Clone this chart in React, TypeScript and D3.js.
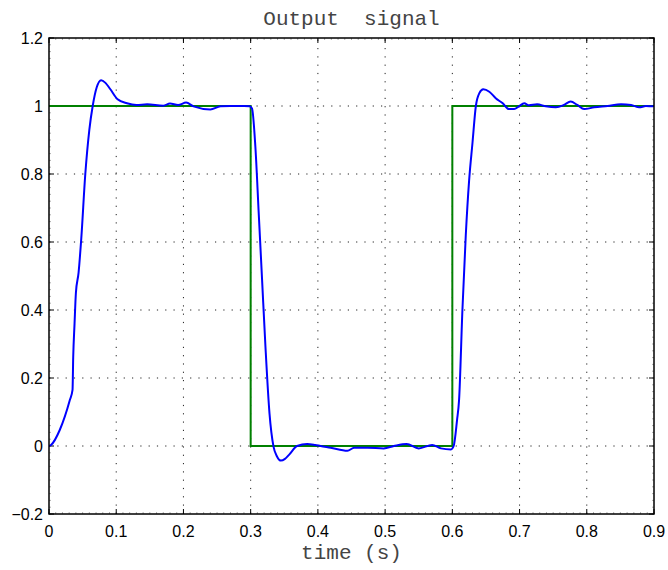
import React from "react";
import * as d3 from "d3";

const xTicks = [0, 0.1, 0.2, 0.3, 0.4, 0.5, 0.6, 0.7, 0.8, 0.9];
const yTicks = [-0.2, 0, 0.2, 0.4, 0.6, 0.8, 1, 1.2];

const refTime = [0, 0.3, 0.3, 0.6, 0.6, 0.9];
const refValue = [1, 1, 0, 0, 1, 1];

const outTime = [
  0, 0.003, 0.016, 0.031, 0.035, 0.036, 0.038, 0.04, 0.044, 0.048, 0.054, 0.06, 0.065,
  0.071, 0.0775, 0.084, 0.091, 0.102, 0.116, 0.13, 0.146, 0.17, 0.18, 0.192, 0.204, 0.215,
  0.24, 0.255, 0.27, 0.29, 0.2985, 0.302, 0.307, 0.312, 0.317, 0.322, 0.328, 0.334, 0.339,
  0.345, 0.351, 0.357, 0.369, 0.384, 0.396, 0.404, 0.419, 0.444, 0.454, 0.474, 0.498, 0.513,
  0.532, 0.55, 0.57, 0.583, 0.598, 0.602, 0.607, 0.61, 0.615, 0.62, 0.625, 0.63, 0.635,
  0.64, 0.646, 0.655, 0.665, 0.675, 0.684, 0.692, 0.699, 0.707, 0.714, 0.726, 0.739, 0.754,
  0.766, 0.776, 0.786, 0.796, 0.811, 0.831, 0.851, 0.866, 0.878, 0.888, 0.898, 0.9,
];
const outValue = [
  0, 0.003, 0.047, 0.135, 0.165, 0.26, 0.36, 0.45, 0.51, 0.61, 0.8, 0.93, 1.0,
  1.055, 1.076, 1.068, 1.05, 1.02, 1.008, 1.003, 1.005, 1.001, 1.007, 1.003, 1.01, 0.999,
  0.99, 0.999, 1.0, 1.0, 0.999, 0.993, 0.88, 0.684, 0.488, 0.292, 0.096, -0.002, -0.03,
  -0.043, -0.038, -0.026, 0.0, 0.006, 0.003, 0.0, -0.005, -0.014, -0.005, -0.005, -0.007, 0.0,
  0.006, -0.007, 0.003, -0.007, -0.01, 0.0, 0.076, 0.135, 0.4, 0.62, 0.782, 0.892, 1.0,
  1.037, 1.049, 1.042, 1.022, 1.008, 0.991, 0.991, 0.999, 1.008, 1.002, 1.005, 0.999, 0.996,
  1.003, 1.013, 1.003, 0.991, 0.996, 1.0, 1.005, 1.003, 0.996, 1.0, 0.999, 1.0,
];

const W = 668;
const H = 570;
const M = { left: 49, right: 14, top: 38, bottom: 56 };

export default function App() {
  const x = d3.scaleLinear().domain([0, 0.9]).range([M.left, W - M.right]);
  const y = d3.scaleLinear().domain([-0.2, 1.2]).range([H - M.bottom, M.top]);
  const [x0, x1] = x.range();
  const [y0, y1] = y.range();

  const refLine = d3
    .line<number>()
    .x((_, i) => x(refTime[i]))
    .y((_, i) => y(refValue[i]))(refTime as any) as string;

  const outLine = d3
    .line<number>()
    .x((_, i) => x(outTime[i]))
    .y((_, i) => y(outValue[i]))
    .curve(d3.curveMonotoneX)(outTime as any) as string;

  const minorX = d3.range(0, 0.9001, 0.01);
  const minorY = d3.range(-0.2, 1.2001, 0.02);
  const fmt = (v: number) => (Math.abs(v) < 1e-9 ? "0" : d3.format("")(+v.toFixed(1)).replace("-", "\u2212"));

  return (
    <svg width={W} height={H} style={{ display: "block", position: "absolute", left: 0, top: 0 }}>
      <rect x={0} y={0} width={W} height={H} fill="#fff" />
      <defs>
        <clipPath id="plot">
          <rect x={x0} y={y1} width={x1 - x0} height={y0 - y1} />
        </clipPath>
      </defs>
      {/* grid */}
      <g stroke="#222" strokeWidth={1} strokeDasharray="1.2,7.1">
        {xTicks.slice(1, -1).map((t) => (
          <line key={"gx" + t} x1={x(t)} x2={x(t)} y1={y0} y2={y1} />
        ))}
        {yTicks.slice(1, -1).map((t) => (
          <line key={"gy" + t} x1={x0} x2={x1} y1={y(t)} y2={y(t)} />
        ))}
      </g>
      {/* minor ticks */}
      <g stroke="#777" strokeWidth={0.6}>
        {minorX.map((t, i) => (
          <g key={"mx" + i}>
            <line x1={x(t)} x2={x(t)} y1={y0} y2={y0 - 2} />
            <line x1={x(t)} x2={x(t)} y1={y1} y2={y1 + 2} />
          </g>
        ))}
        {minorY.map((t, i) => (
          <g key={"my" + i}>
            <line x1={x0} x2={x0 + 2} y1={y(t)} y2={y(t)} />
            <line x1={x1} x2={x1 - 2} y1={y(t)} y2={y(t)} />
          </g>
        ))}
      </g>
      {/* major ticks */}
      <g stroke="#000" strokeWidth={1}>
        {xTicks.map((t) => (
          <g key={"tx" + t}>
            <line x1={x(t)} x2={x(t)} y1={y0} y2={y0 - 5} />
            <line x1={x(t)} x2={x(t)} y1={y1} y2={y1 + 5} />
          </g>
        ))}
        {yTicks.map((t) => (
          <g key={"ty" + t}>
            <line x1={x0} x2={x0 + 5} y1={y(t)} y2={y(t)} />
            <line x1={x1} x2={x1 - 5} y1={y(t)} y2={y(t)} />
          </g>
        ))}
      </g>
      <g clipPath="url(#plot)" fill="none">
        <path d={refLine} stroke="#008000" strokeWidth={2} />
        <path d={outLine} stroke="#0000ff" strokeWidth={2} strokeLinejoin="round" />
      </g>
      <rect x={x0} y={y1} width={x1 - x0} height={y0 - y1} fill="none" stroke="#000" strokeWidth={1.5} />
      {/* tick labels */}
      <g fontFamily="'Liberation Sans', Arial, sans-serif" fontSize={16} fill="#000">
        {xTicks.map((t) => (
          <text key={"lx" + t} x={x(t)} y={y0 + 23} textAnchor="middle">
            {fmt(t)}
          </text>
        ))}
        {yTicks.map((t) => (
          <text key={"ly" + t} x={x0 - 6} y={y(t) + 6} textAnchor="end">
            {fmt(t)}
          </text>
        ))}
      </g>
      <text
        x={(x0 + x1) / 2}
        y={25}
        textAnchor="middle"
        fontFamily="'Liberation Mono', 'DejaVu Sans Mono', monospace"
        fontSize={21}
        fill="#444"
        xmlSpace="preserve"
        style={{ whiteSpace: "pre" }}
      >
        {"Output  signal"}
      </text>
      <text
        x={(x0 + x1) / 2}
        y={559}
        textAnchor="middle"
        fontFamily="'Liberation Mono', 'DejaVu Sans Mono', monospace"
        fontSize={21}
        fill="#444"
      >
        time (s)
      </text>
    </svg>
  );
}
